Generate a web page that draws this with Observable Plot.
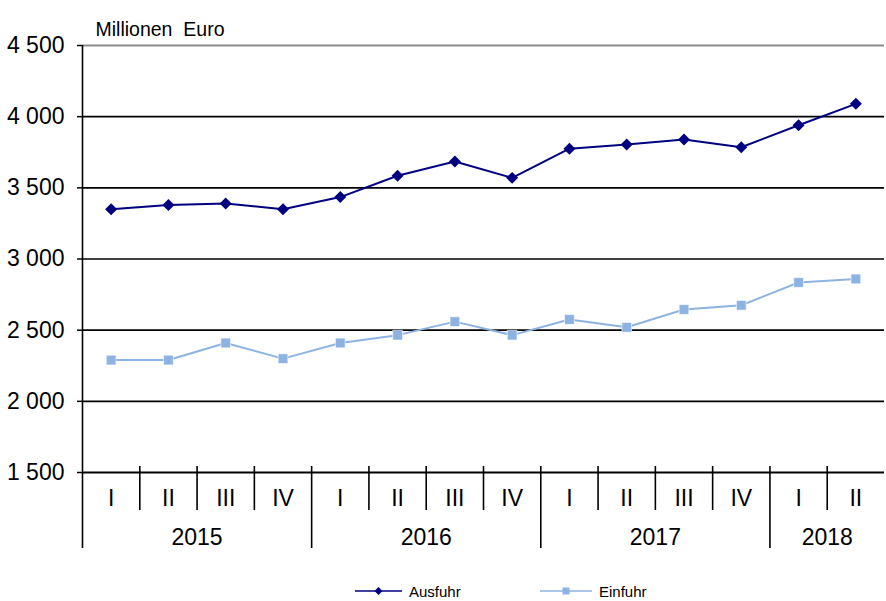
<!DOCTYPE html>
<html>
<head>
<meta charset="utf-8">
<script src="https://cdn.jsdelivr.net/npm/d3@7"></script>
<script src="https://cdn.jsdelivr.net/npm/@observablehq/plot@0.6"></script>
<style>
  body { margin: 0; background: #fff; font-family: "Liberation Sans", Arial, sans-serif; }
  #legend { position: relative; width: 886px; height: 36px; font-size: 15px; color: #000; }
  .item { position: absolute; top: 18px; display: flex; align-items: center; height: 16px; }
  .item svg { display: block; margin-right: 7px; }
</style>
</head>
<body>
<div id="chart"></div>
<div id="legend"></div>
<script>
const quarters = ["I","II","III","IV","I","II","III","IV","I","II","III","IV","I","II"];
const years = ["2015","2016","2017","2018"];
const yearQuarterCounts = [4, 4, 4, 2];
const ausfuhr = [3350, 3380, 3390, 3350, 3435, 3585, 3685, 3570, 3775, 3805, 3840, 3785, 3940, 4090];
const einfuhr = [2290, 2290, 2410, 2300, 2410, 2465, 2560, 2465, 2575, 2520, 2645, 2675, 2835, 2860];
const yTicks = [1500, 2000, 2500, 3000, 3500, 4000, 4500];
const seriesNames = ["Ausfuhr", "Einfuhr"];
const colors = {Ausfuhr: "#000080", Einfuhr: "#8db3e2"};

const W = 886, H = 565, mt = 45, mb = 93, ml = 82, mr = 2;
const yMin = yTicks[0], yMax = yTicks[yTicks.length - 1];
const unitsPerPx = (yMax - yMin) / (H - mt - mb);
const below = px => yMin - px * unitsPerPx;

const rows = quarters.map((q, i) => ({i, q, aus: ausfuhr[i], ein: einfuhr[i]}));

// year groups
let start = 0;
const yearRows = years.map((y, k) => {
  const n = yearQuarterCounts[k];
  const r = {year: y, center: start + (n - 1) / 2, end: start + n - 0.5};
  start += n;
  return r;
});
const yearBounds = yearRows.slice(0, -1).map(d => d.end);
const quarterBounds = quarters.slice(0, -1).map((_, i) => i + 0.5).filter(b => !yearBounds.includes(b));

const fmt = d => d3.format(",")(d).replace(/,/g, " ");
const narrow = "'Liberation Sans Narrow', 'Arial Narrow', 'Liberation Sans', Arial, sans-serif";

const chart = Plot.plot({
  width: W, height: H,
  marginTop: mt, marginBottom: mb, marginLeft: ml, marginRight: mr,
  style: {fontFamily: narrow, fontSize: "23px", color: "#000", background: "#fff"},
  x: {type: "linear", domain: [-0.5, quarters.length - 0.5], axis: null},
  y: {domain: [yMin, yMax], axis: null},
  marks: [
    Plot.ruleY(yTicks.slice(1, -1), {stroke: "#000", strokeWidth: 1.6}),
    Plot.ruleY([yMax], {stroke: "#8c8c8c", strokeWidth: 2}),
    Plot.ruleY([yMin], {x1: -0.5, x2: quarters.length - 0.5, stroke: "#000", strokeWidth: 2}),
    Plot.axisY(yTicks, {tickSize: 5, tickPadding: 13, tickFormat: fmt, stroke: "#000", strokeWidth: 1.5, fontSize: 23}),
    Plot.ruleX([-0.5], {y1: yMax, y2: below(76), stroke: "#000", strokeWidth: 1.6, clip: false}),
    Plot.ruleX(quarterBounds, {y1: yMin + 6 * unitsPerPx, y2: below(38), stroke: "#000", strokeWidth: 1.6}),
    Plot.ruleX(yearBounds, {y1: yMin + 6 * unitsPerPx, y2: below(76), stroke: "#000", strokeWidth: 1.6}),
    Plot.text(rows, {x: "i", y: yMin, text: "q", dy: 26, fontSize: 23}),
    Plot.text(yearRows, {x: "center", y: yMin, text: "year", dy: 65, fontSize: 23}),
    Plot.text(["Millionen  Euro"], {frameAnchor: "top-left", dx: 13, dy: -23, textAnchor: "start", fontSize: 19.5}),
    Plot.line(rows, {x: "i", y: "ein", stroke: colors.Einfuhr, strokeWidth: 2}),
    Plot.dot(rows, {x: "i", y: "ein", symbol: "square2", r: 6.2, fill: colors.Einfuhr, stroke: "#fff", strokeWidth: 0.6}),
    Plot.line(rows, {x: "i", y: "aus", stroke: colors.Ausfuhr, strokeWidth: 2}),
    Plot.dot(rows, {x: "i", y: "aus", symbol: "diamond2", r: 5.4, fill: colors.Ausfuhr})
  ]
});
document.getElementById("chart").appendChild(chart);

// legend
const legend = document.getElementById("legend");
const legendPos = {Ausfuhr: 355, Einfuhr: 540};
const legendLen = {Ausfuhr: 47, Einfuhr: 52};
const symbolPaths = {
  Ausfuhr: (c, w) => `<path d="M${w/2},4 L${w/2+4},8 L${w/2},12 L${w/2-4},8 Z" fill="${c}"/>`,
  Einfuhr: (c, w) => `<rect x="${w/2-3.5}" y="4.5" width="7" height="7" fill="${c}"/>`
};
seriesNames.forEach(name => {
  const c = colors[name];
  const w = legendLen[name];
  const div = document.createElement("div");
  div.className = "item";
  div.style.left = legendPos[name] + "px";
  div.innerHTML = `<svg width="${w}" height="16"><line x1="0" x2="${w}" y1="8" y2="8" stroke="${c}" stroke-width="1.6"/>${symbolPaths[name](c, w)}</svg><span>${name}</span>`;
  legend.appendChild(div);
});
</script>
</body>
</html>
